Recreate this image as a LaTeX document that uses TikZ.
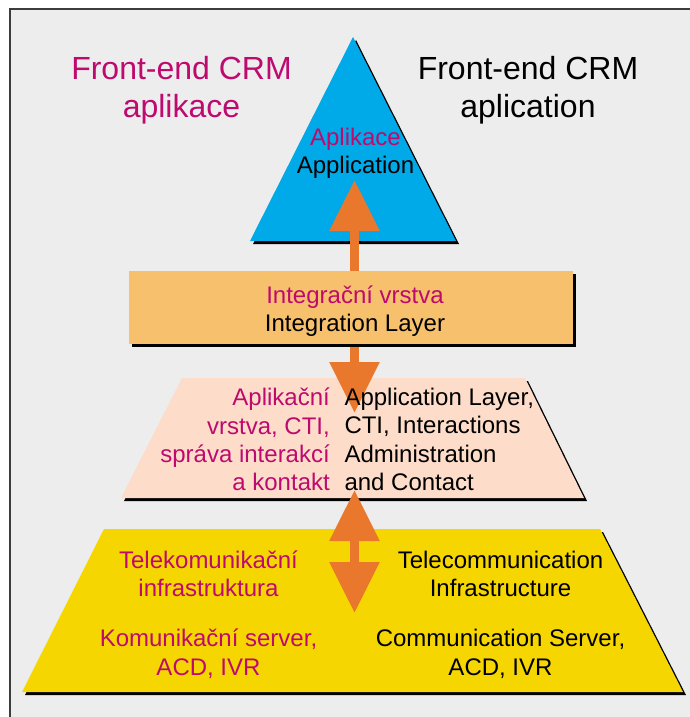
\documentclass[tikz,border=0pt]{standalone}
\usepackage{fontspec}
\setmainfont{Liberation Sans}
\usepackage{xcolor}
\usetikzlibrary{arrows.meta}
\usetikzlibrary{math}
\definecolor{mybg}{RGB}{237,237,237}
\definecolor{myframe}{RGB}{60,60,60}
\definecolor{myblue}{RGB}{0,169,232}
\definecolor{mysand}{RGB}{246,192,108}
\definecolor{mypeach}{RGB}{253,221,201}
\definecolor{myyellow}{RGB}{246,214,0}
\definecolor{myorange}{RGB}{234,120,44}
\definecolor{mymagenta}{RGB}{190,10,110}

% filled layer with a black drop shadow
\newcommand{\layer}[2]{%
  \fill[black, shift={(\shd,\shd)}] #2 -- cycle;
  \fill[#1] #2 -- cycle;
}

\begin{document}
\begin{tikzpicture}[x=1pt,y=-1pt,
  cz/.style={color=mymagenta, inner sep=0pt},
  en/.style={color=black, inner sep=0pt},
  big/.style={font=\fontsize{32}{38}\selectfont, align=center},
  txt/.style={font=\fontsize{24}{28.4}\selectfont, align=center},
  updown/.style={color=myorange, line width=9pt,
    {Triangle[width=48pt,length=51pt]}-{Triangle[width=48pt,length=51pt]}},
]
\tikzmath{
\shd=3;
\mx=354.5;
}
\useasboundingbox (0,0) rectangle (690,717);
\fill[white] (0,0) rectangle (690,717);
\fill[mybg] (9.5,9.5) rectangle (690,717);
\draw[myframe, line width=2] (9.5,717) -- (9.5,9.5) -- (690,9.5);

\layer{myblue}{(250,241) -- (353,37) -- (456,241)}
\layer{mypeach}{(121,498) -- (182,378) -- (525,378) -- (584,498)}
\layer{myyellow}{(22,692) -- (104,529) -- (600,529) -- (683,692)}

\coordinate (aplikace) at (\mx,180);
\coordinate (cti) at (\mx,413);
\coordinate (ctibot) at (\mx,490);
\coordinate (telco) at (\mx,613);
\draw[updown] (aplikace) -- (cti);
\draw[updown] (ctibot) -- (telco);

\layer{mysand}{(129,271) -- (573,271) -- (573,344) -- (129,344)}

% labels
\node[cz, big] (fecz) at (181.5,90.7) {Front-end CRM\\aplikace};
\node[en, big] (feen) at (528,90.7) {Front-end CRM\\aplication};
\node[txt, inner sep=0pt] (app) at (355.5,153.3) {\textcolor{mymagenta}{Aplikace}\\Application};
\node[txt, inner sep=0pt] (integ) at (355,311.1) {\textcolor{mymagenta}{Integrační vrstva}\\Integration Layer};
\node[cz, txt, align=right, anchor=east] (ctics) at (330,439.6)
  {Aplikační\\vrstva, CTI,\\správa interakcí\\a kontakt};
\node[en, txt, align=left, anchor=west] (ctien) at (344.3,439.6)
  {Application Layer,\\CTI, Interactions\\Administration\\and Contact};
\node[cz, txt] (telcs) at (208.5,573.6) {Telekomunikační\\infrastruktura};
\node[cz, txt] (srvcs) at (208.5,653.7) {Komunikační server,\\ACD, IVR};
\node[en, txt] (telen) at (500.5,573.7) {Telecommunication\\Infrastructure};
\node[en, txt] (srven) at (500.5,653.8) {Communication Server,\\ACD, IVR};
\end{tikzpicture}
\end{document}
